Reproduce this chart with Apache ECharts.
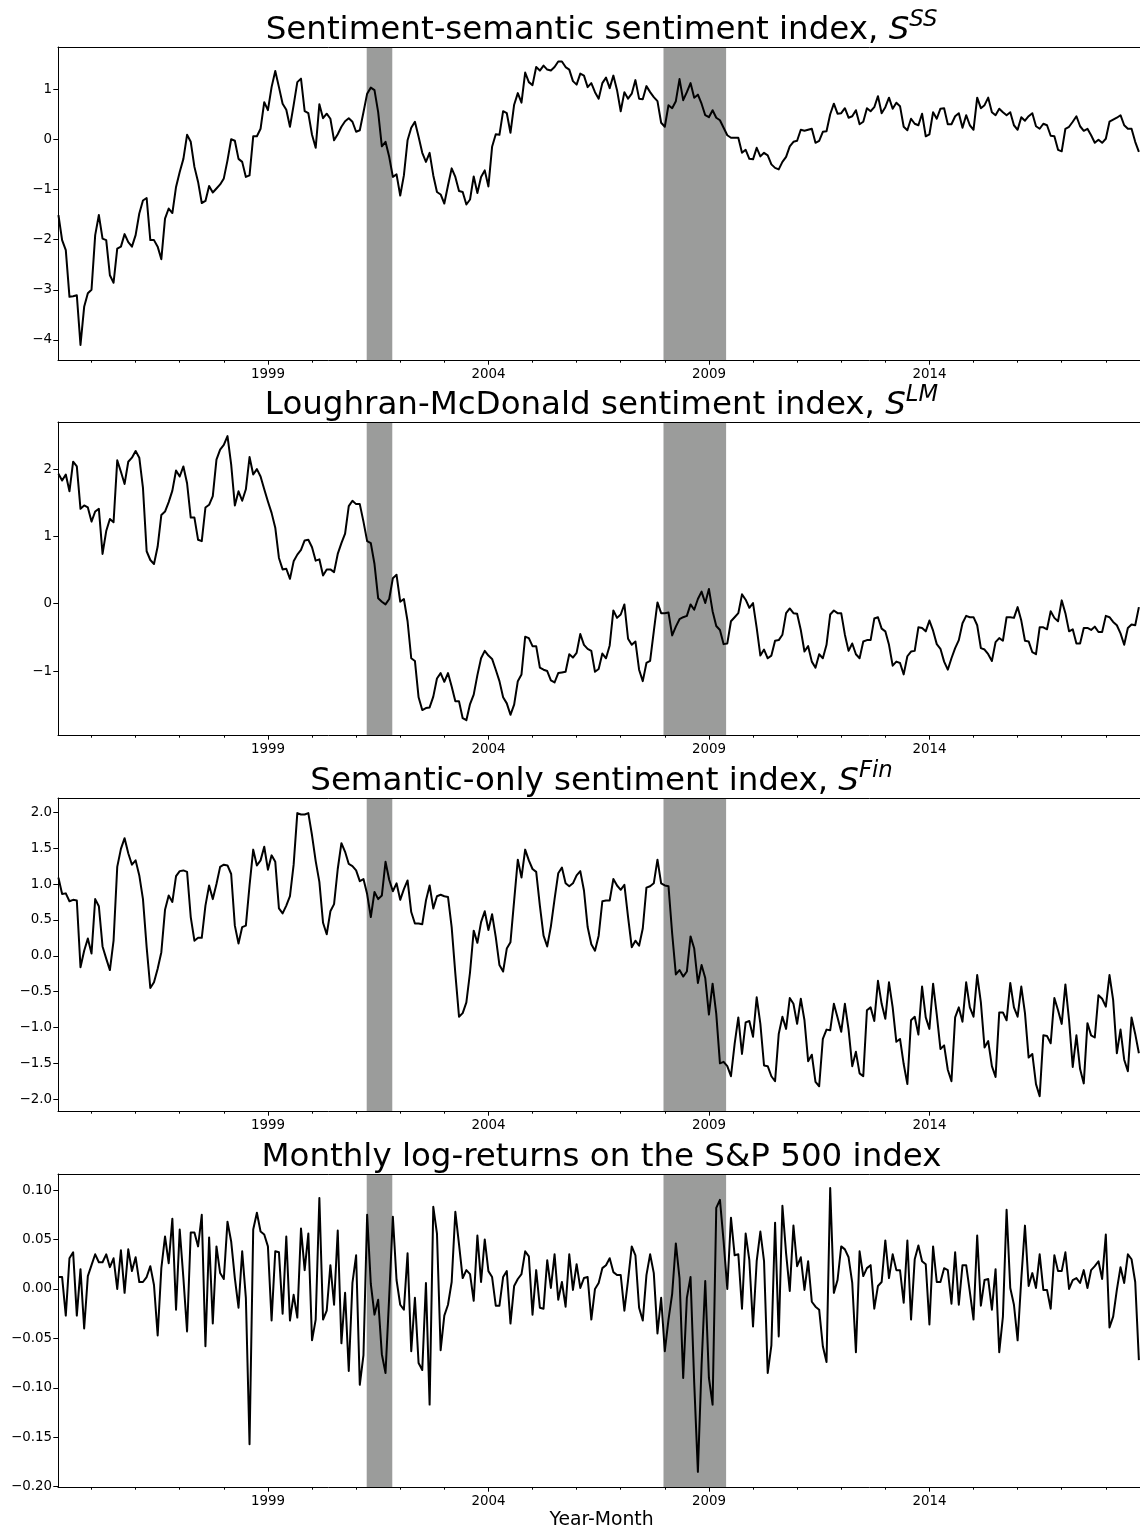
<!DOCTYPE html>
<html><head><meta charset="utf-8">
<script src="https://cdn.jsdelivr.net/npm/echarts@6/dist/echarts.min.js"></script>
<style>html,body{margin:0;padding:0;background:#fff}#c{width:1140px;height:1531px}</style>
</head><body><div id="c"></div>
<script>
// ---------------- DATA ----------------
const startYear = 1994, startMonth = 4;   // first month of the monthly series

const ssIndex = [
-1.51,-2.01,-2.21,-3.14,-3.13,-3.11,-4.10,-3.34,-3.07,-3.00,
-1.91,-1.51,-1.98,-2.01,-2.71,-2.86,-2.18,-2.14,-1.89,-2.05,
-2.14,-1.91,-1.48,-1.22,-1.17,-2.01,-2.01,-2.14,-2.39,-1.58,
-1.38,-1.47,-0.95,-0.65,-0.39,0.09,-0.05,-0.55,-0.85,-1.27,
-1.23,-0.93,-1.06,-0.98,-0.90,-0.78,-0.42,0.00,-0.03,-0.39,
-0.45,-0.75,-0.72,0.06,0.06,0.21,0.74,0.58,1.04,1.36,
1.04,0.71,0.59,0.25,0.68,1.14,1.21,0.56,0.52,0.09,
-0.17,0.70,0.42,0.51,0.41,-0.02,0.10,0.25,0.36,0.42,
0.35,0.15,0.18,0.54,0.91,1.03,0.98,0.54,-0.14,-0.05,
-0.35,-0.75,-0.70,-1.12,-0.72,-0.02,0.23,0.35,0.05,-0.27,
-0.45,-0.27,-0.72,-1.05,-1.10,-1.28,-0.92,-0.58,-0.75,-1.03,
-1.05,-1.30,-1.20,-0.74,-1.07,-0.75,-0.62,-0.94,-0.15,0.10,
0.09,0.56,0.52,0.13,0.69,0.92,0.73,1.33,1.14,1.08,
1.44,1.37,1.47,1.39,1.37,1.44,1.55,1.55,1.44,1.39,
1.16,1.09,1.31,1.27,1.04,1.12,0.94,0.81,1.12,1.23,
1.02,1.27,0.98,0.56,0.94,0.81,0.91,1.18,0.81,0.80,
1.06,0.94,0.84,0.76,0.33,0.25,0.68,0.62,0.76,1.20,
0.78,0.94,1.12,0.83,0.89,0.71,0.48,0.44,0.58,0.43,
0.38,0.23,0.08,0.03,0.03,0.03,-0.27,-0.21,-0.39,-0.40,
-0.17,-0.34,-0.27,-0.32,-0.50,-0.57,-0.60,-0.45,-0.35,-0.14,
-0.05,-0.03,0.19,0.17,0.19,0.21,-0.07,-0.03,0.15,0.16,
0.50,0.71,0.51,0.52,0.62,0.43,0.46,0.58,0.30,0.35,
0.62,0.56,0.64,0.86,0.52,0.64,0.83,0.61,0.73,0.66,
0.25,0.18,0.41,0.31,0.28,0.51,0.06,0.10,0.54,0.41,
0.61,0.62,0.30,0.30,0.46,0.52,0.23,0.48,0.28,0.19,
0.83,0.62,0.68,0.83,0.54,0.48,0.61,0.54,0.48,0.54,
0.28,0.19,0.44,0.37,0.46,0.52,0.26,0.21,0.31,0.28,
0.07,0.06,-0.21,-0.24,0.21,0.25,0.35,0.46,0.26,0.17,
0.21,0.08,-0.07,-0.01,-0.07,0.01,0.35,0.39,0.43,0.48,
0.28,0.21,0.21,-0.05,-0.25
];

const lmIndex = [
1.93,1.83,1.92,1.67,2.11,2.04,1.41,1.46,1.43,1.22,
1.37,1.41,0.74,1.08,1.26,1.21,2.13,1.96,1.78,2.11,
2.17,2.27,2.17,1.72,0.78,0.65,0.59,0.85,1.32,1.37,
1.51,1.68,1.98,1.89,2.04,1.79,1.28,1.28,0.95,0.93,
1.43,1.47,1.60,2.14,2.29,2.36,2.49,2.07,1.46,1.67,
1.53,1.70,2.18,1.92,2.00,1.89,1.70,1.52,1.35,1.13,
0.68,0.51,0.52,0.37,0.63,0.73,0.80,0.94,0.95,0.84,
0.64,0.66,0.42,0.51,0.51,0.47,0.74,0.90,1.04,1.45,
1.53,1.48,1.48,1.22,0.93,0.90,0.59,0.08,0.03,-0.01,
0.07,0.38,0.43,0.03,0.07,-0.26,-0.81,-0.85,-1.39,-1.58,
-1.55,-1.54,-1.38,-1.11,-1.03,-1.16,-1.03,-1.23,-1.45,-1.45,
-1.70,-1.73,-1.49,-1.35,-1.06,-0.81,-0.70,-0.77,-0.82,-0.98,
-1.15,-1.39,-1.48,-1.65,-1.50,-1.15,-1.05,-0.49,-0.51,-0.63,
-0.63,-0.95,-0.98,-1.00,-1.14,-1.17,-1.03,-1.02,-1.01,-0.75,
-0.80,-0.73,-0.45,-0.61,-0.67,-0.70,-1.01,-0.97,-0.74,-0.81,
-0.62,-0.10,-0.21,-0.16,-0.01,-0.52,-0.61,-0.56,-0.98,-1.15,
-0.88,-0.85,-0.41,0.02,-0.14,-0.14,-0.13,-0.47,-0.34,-0.23,
-0.20,-0.18,-0.01,-0.09,0.07,0.18,0.01,0.22,-0.11,-0.33,
-0.39,-0.60,-0.59,-0.26,-0.20,-0.14,0.14,0.06,-0.06,0.01,
-0.36,-0.77,-0.68,-0.81,-0.77,-0.55,-0.54,-0.46,-0.14,-0.07,
-0.14,-0.15,-0.39,-0.71,-0.63,-0.86,-0.95,-0.75,-0.81,-0.61,
-0.16,-0.10,-0.14,-0.14,-0.46,-0.70,-0.59,-0.75,-0.81,-0.56,
-0.54,-0.54,-0.22,-0.20,-0.37,-0.41,-0.61,-0.92,-0.86,-0.88,
-1.05,-0.78,-0.71,-0.70,-0.35,-0.36,-0.41,-0.25,-0.40,-0.60,
-0.67,-0.86,-0.98,-0.81,-0.66,-0.54,-0.29,-0.18,-0.20,-0.20,
-0.32,-0.66,-0.68,-0.75,-0.85,-0.57,-0.51,-0.55,-0.20,-0.20,
-0.21,-0.05,-0.25,-0.55,-0.56,-0.72,-0.75,-0.35,-0.35,-0.38,
-0.11,-0.21,-0.26,0.05,-0.14,-0.41,-0.38,-0.59,-0.59,-0.36,
-0.36,-0.39,-0.34,-0.42,-0.42,-0.18,-0.20,-0.27,-0.32,-0.44,
-0.61,-0.36,-0.31,-0.32,-0.05
];

const finIndex = [
1.09,0.86,0.87,0.76,0.78,0.77,-0.16,0.07,0.24,0.03,
0.79,0.69,0.13,-0.04,-0.20,0.21,1.24,1.49,1.64,1.43,
1.27,1.33,1.12,0.79,0.12,-0.45,-0.37,-0.18,0.05,0.64,
0.84,0.75,1.11,1.18,1.19,1.17,0.54,0.21,0.25,0.25,
0.70,0.98,0.79,1.00,1.24,1.27,1.26,1.14,0.42,0.17,
0.40,0.42,0.98,1.48,1.26,1.33,1.52,1.20,1.40,1.31,
0.66,0.59,0.70,0.83,1.27,1.99,1.97,1.97,1.99,1.68,
1.32,1.03,0.46,0.30,0.62,0.72,1.21,1.57,1.45,1.28,
1.25,1.19,1.04,1.07,0.86,0.54,0.89,0.79,0.84,1.31,
1.06,0.90,1.01,0.78,0.93,1.05,0.61,0.45,0.45,0.44,
0.77,0.98,0.66,0.83,0.85,0.83,0.82,0.40,-0.25,-0.85,
-0.80,-0.65,-0.23,0.35,0.18,0.47,0.62,0.36,0.58,0.26,
-0.13,-0.22,0.10,0.19,0.77,1.34,1.09,1.48,1.33,1.21,
1.17,0.70,0.28,0.13,0.41,0.79,1.15,1.23,1.01,0.97,
1.01,1.12,1.18,0.91,0.40,0.16,0.07,0.28,0.76,0.77,
0.77,1.07,0.98,0.92,0.99,0.54,0.12,0.21,0.14,0.38,
0.95,0.97,1.01,1.34,1.01,0.98,0.97,0.31,-0.26,-0.20,
-0.29,-0.22,0.27,0.10,-0.38,-0.13,-0.31,-0.82,-0.39,-0.81,
-1.50,-1.48,-1.54,-1.68,-1.23,-0.86,-1.37,-0.93,-0.91,-1.13,
-0.58,-0.95,-1.53,-1.54,-1.68,-1.75,-1.09,-0.85,-1.02,-0.59,
-0.67,-0.95,-0.60,-0.90,-1.47,-1.38,-1.76,-1.82,-1.16,-1.03,
-1.04,-0.67,-0.86,-1.06,-0.67,-1.03,-1.54,-1.34,-1.64,-1.68,
-0.76,-0.72,-0.91,-0.35,-0.67,-0.88,-0.37,-0.72,-1.20,-1.16,
-1.51,-1.79,-0.90,-0.85,-1.10,-0.43,-0.86,-1.02,-0.39,-0.82,
-1.30,-1.25,-1.59,-1.75,-0.86,-0.72,-0.92,-0.37,-0.72,-0.85,
-0.27,-0.65,-1.28,-1.19,-1.54,-1.69,-0.79,-0.79,-0.90,-0.38,
-0.72,-0.85,-0.43,-0.80,-1.42,-1.37,-1.79,-1.96,-1.11,-1.12,
-1.22,-0.59,-0.76,-0.95,-0.40,-0.90,-1.55,-1.11,-1.58,-1.78,
-0.94,-1.11,-1.14,-0.55,-0.60,-0.71,-0.27,-0.62,-1.36,-1.03,
-1.45,-1.61,-0.86,-1.09,-1.36
];

const spReturns = [
0.012,0.012,-0.027,0.031,0.037,-0.027,0.020,-0.040,0.013,0.024,
0.035,0.027,0.027,0.035,0.022,0.031,0.000,0.039,-0.004,0.040,
0.018,0.032,0.007,0.007,0.012,0.023,0.004,-0.047,0.021,0.053,
0.026,0.071,-0.021,0.060,0.011,-0.043,0.057,0.057,0.043,0.075,
-0.058,0.052,-0.035,0.043,0.016,0.010,0.068,0.048,0.011,-0.019,
0.038,-0.009,-0.157,0.060,0.077,0.058,0.055,0.043,-0.032,0.038,
0.037,-0.025,0.053,-0.032,-0.006,-0.029,0.061,0.019,0.056,-0.052,
-0.031,0.092,-0.031,-0.022,0.024,-0.016,0.059,-0.055,-0.004,-0.083,
0.006,0.034,-0.097,-0.067,0.075,0.005,-0.026,-0.011,-0.066,-0.085,
-0.008,0.073,0.009,-0.016,-0.021,0.036,-0.063,-0.009,-0.075,-0.082,
0.006,-0.117,0.083,0.056,-0.062,-0.027,-0.016,0.007,0.078,0.045,
0.011,0.019,0.015,-0.012,0.054,0.007,0.050,0.018,0.012,-0.017,
-0.017,0.012,0.018,-0.035,0.003,0.010,0.015,0.038,0.033,-0.026,
0.019,-0.019,-0.020,0.029,0.001,0.035,-0.011,0.007,-0.018,0.035,
-0.001,0.025,0.001,0.011,0.012,-0.031,0.000,0.006,0.021,0.024,
0.031,0.017,0.014,0.014,-0.022,0.009,0.043,0.034,-0.019,-0.032,
0.014,0.035,0.016,-0.045,-0.009,-0.063,-0.031,-0.005,0.046,0.011,
-0.090,-0.009,0.012,-0.095,-0.185,-0.077,0.008,-0.090,-0.117,0.082,
0.090,0.048,0.000,0.072,0.034,0.035,-0.020,0.056,0.029,-0.038,
0.028,0.058,0.028,-0.085,-0.057,0.067,-0.048,0.084,0.036,-0.002,
0.064,0.023,0.032,-0.001,0.028,-0.013,-0.018,-0.021,-0.058,-0.074,
0.102,-0.004,0.009,0.043,0.040,0.032,0.006,-0.064,0.038,0.013,
0.021,0.024,-0.020,0.003,0.007,0.049,0.011,0.035,0.019,0.019,
-0.014,0.049,-0.031,0.030,0.044,0.028,0.025,-0.036,0.043,0.007,
0.007,0.021,0.019,-0.015,0.037,-0.016,0.024,0.024,-0.003,-0.031,
0.054,-0.017,0.009,0.010,-0.021,0.020,-0.064,-0.028,0.080,0.001,
-0.016,-0.052,0.010,0.064,0.003,0.016,0.001,0.035,-0.001,-0.001,
-0.020,0.034,0.018,0.018,0.037,0.000,0.009,0.011,0.006,0.019,
0.001,0.019,0.023,0.028,0.010,0.055,-0.039,-0.028,-0.001,0.022,
0.006,0.035,0.030,0.007,-0.072
];

// NBER recessions (decimal years)
const recessions = [[2001.24, 2001.82], [2007.97, 2009.39]];

// tick labels
const xMajorTicks = [1999, 2004, 2009, 2014];
const xMinorTicks = [1995,1996,1997,1998,2000,2001,2002,2003,2005,2006,2007,2008,2010,2011,2012,2013,2015,2016,2017,2018];
const yTicksSS  = [-4, -3, -2, -1, 0, 1];
const yTicksLM  = [-1, 0, 1, 2];
const yTicksFin = [-2, -1.5, -1, -0.5, 0, 0.5, 1, 1.5, 2];
const yTicksRet = [-0.2, -0.15, -0.1, -0.05, 0, 0.05, 0.1];

// ---------------- CHART ----------------
const FONT = '"DejaVu Sans", sans-serif';
const X_MIN = 1994.24, GRID_LEFT = 58, GRID_W = 1082, GRID_H = 313, PX_PER_YEAR = 44.1;
const X_MAX = X_MIN + GRID_W / PX_PER_YEAR;
const TITLE_CX = 601.5;   // centre of the (partly cropped) axes box
const months = ssIndex.map((_, i) => startYear + (startMonth - 1 + i) / 12);

const panels = [
  {main: 'Sentiment-semantic sentiment index, ', sym: 'S', sup: 'SS', data: ssIndex, yMin: -4.40, yMax: 1.84, yTicks: yTicksSS, dec: 0, top: 47},
  {main: 'Loughran-McDonald sentiment index, ', sym: 'S', sup: 'LM', data: lmIndex, yMin: -1.95, yMax: 2.70, yTicks: yTicksLM, dec: 0, top: 422},
  {main: 'Semantic-only sentiment index, ', sym: 'S', sup: 'Fin', data: finIndex, yMin: -2.165, yMax: 2.20, yTicks: yTicksFin, dec: 1, top: 798},
  {main: 'Monthly log-returns on the S&P 500 index', sym: '', sup: '', data: spReturns, yMin: -0.2003, yMax: 0.1162, yTicks: yTicksRet, dec: 2, top: 1174}
];

function fmt(v, dec) {
  const s = Math.abs(v).toFixed(dec);
  return (v < -1e-9 ? '\u2212' : '') + s;
}

const TITLE_SIZE = 32.5, SUP_SIZE = 22.75, TICK_SIZE = 13.4;
const mctx = document.createElement('canvas').getContext('2d');
function tw(text, font) { mctx.font = font; return mctx.measureText(text).width; }

const grid = [], xAxis = [], yAxis = [], series = [], graphic = [];
const axisLineStyle = {color: '#000', width: 1};
panels.forEach((p, k) => {
  grid.push({left: GRID_LEFT, top: p.top, width: GRID_W, height: GRID_H, show: false});
  const base = {gridIndex: k, type: 'value', min: X_MIN, max: X_MAX, splitLine: {show: false}, z: 5};
  xAxis.push(Object.assign({}, base, {
    position: 'bottom',
    axisLine: {show: true, onZero: false, lineStyle: axisLineStyle},
    axisTick: {show: true, customValues: xMajorTicks, length: 4.7, lineStyle: axisLineStyle},
    axisLabel: {show: true, customValues: xMajorTicks, formatter: v => String(Math.round(v)),
      color: '#000', fontFamily: FONT, fontSize: TICK_SIZE, margin: 8}
  }));
  xAxis.push(Object.assign({}, base, {
    position: 'bottom',
    axisLine: {show: false, onZero: false},
    axisTick: {show: true, customValues: xMinorTicks, length: 2.7, lineStyle: axisLineStyle},
    axisLabel: {show: false}
  }));
  xAxis.push(Object.assign({}, base, {
    position: 'top',
    axisLine: {show: true, onZero: false, lineStyle: axisLineStyle},
    axisTick: {show: false}, axisLabel: {show: false}
  }));
  yAxis.push({
    gridIndex: k, type: 'value', min: p.yMin, max: p.yMax, position: 'left', z: 5,
    splitLine: {show: false},
    axisLine: {show: true, onZero: false, lineStyle: axisLineStyle},
    axisTick: {show: true, customValues: p.yTicks, length: 4.7, lineStyle: axisLineStyle},
    axisLabel: {show: true, customValues: p.yTicks, formatter: v => fmt(v, p.dec),
      color: '#000', fontFamily: FONT, fontSize: TICK_SIZE, margin: 6}
  });
  series.push({
    type: 'line', xAxisIndex: 3 * k, yAxisIndex: k, data: [[X_MIN, p.yMin]],
    symbol: 'none', lineStyle: {opacity: 0}, silent: true, z: 1, animation: false,
    markArea: {silent: true, itemStyle: {color: '#9b9c9b'},
      data: recessions.map(r => [{xAxis: r[0]}, {xAxis: r[1]}])}
  });
  series.push({
    type: 'line', xAxisIndex: 3 * k, yAxisIndex: k,
    data: p.data.map((v, i) => [months[i], v]),
    symbol: 'none', showSymbol: false, silent: true, z: 3, animation: false,
    lineStyle: {color: '#000', width: 2, join: 'round'}
  });

  // title, centred on the axes box
  const fMain = `${TITLE_SIZE}px ${FONT}`;
  const fIt = `italic ${TITLE_SIZE}px ${FONT}`;
  const fSup = `italic ${SUP_SIZE}px ${FONT}`;
  const wMain = tw(p.main, fMain), wSym = p.sym ? tw(p.sym, fIt) : 0, wSup = p.sup ? tw(p.sup, fSup) : 0;
  const x0 = TITLE_CX - (wMain + wSym + wSup) / 2;
  const yMidMain = p.top - 16;
  graphic.push({type: 'text', x: x0, y: yMidMain, silent: true,
    style: {text: p.main, font: fMain, fill: '#000', textAlign: 'left', textVerticalAlign: 'middle', verticalAlign: 'middle'}});
  if (p.sym) {
    graphic.push({type: 'text', x: x0 + wMain, y: yMidMain, silent: true,
      style: {text: p.sym, font: fIt, fill: '#000', textAlign: 'left', textVerticalAlign: 'middle', verticalAlign: 'middle'}});
    graphic.push({type: 'text', x: x0 + wMain + wSym, y: yMidMain - 11, silent: true,
      style: {text: p.sup, font: fSup, fill: '#000', textAlign: 'left', textVerticalAlign: 'middle', verticalAlign: 'middle'}});
  }
});

// x-axis label of the bottom panel
graphic.push({type: 'text', x: TITLE_CX, y: 1520, silent: true,
  style: {text: 'Year-Month', font: `18.8px ${FONT}`, fill: '#000', textAlign: 'center', textVerticalAlign: 'middle', verticalAlign: 'middle'}});

const chart = echarts.init(document.getElementById('c'), null, {renderer: 'canvas', width: 1140, height: 1531});
chart.setOption({
  animation: false,
  backgroundColor: '#fff',
  grid, xAxis, yAxis, series, graphic
});
</script>
</body></html>
